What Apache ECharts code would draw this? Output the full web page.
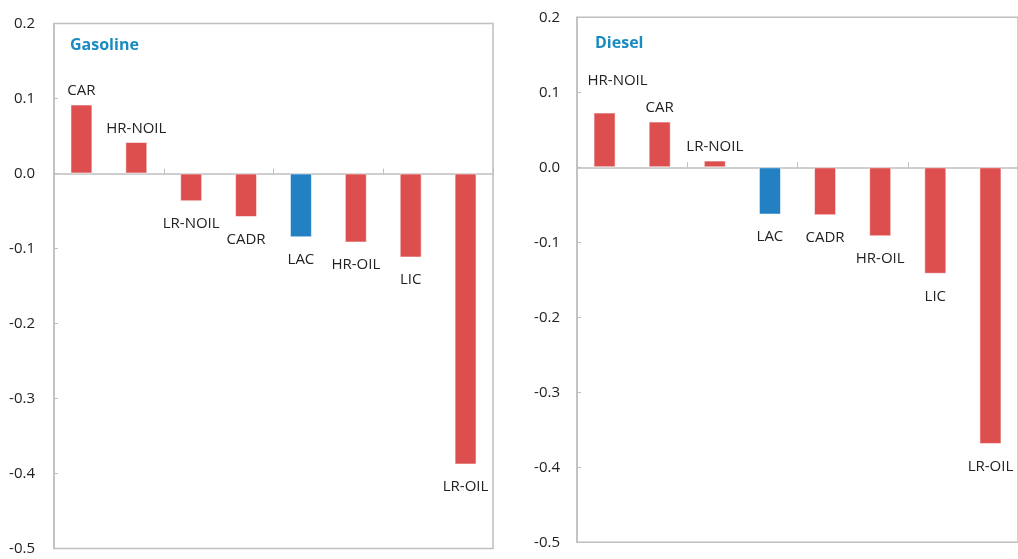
<!DOCTYPE html>
<html>
<head>
<meta charset="utf-8">
<script src="https://cdn.jsdelivr.net/npm/echarts@6/dist/echarts.min.js"></script>
<style>
  html, body { margin: 0; padding: 0; background: #fff; }
  #chart { width: 1018px; height: 559px; }
</style>
</head>
<body>
<div id="chart"></div>
<script>
// Gasoline panel
const gasolineCategories = ['CAR', 'HR-NOIL', 'LR-NOIL', 'CADR', 'LAC', 'HR-OIL', 'LIC', 'LR-OIL'];
const gasolineValues = [0.092, 0.042, -0.037, -0.058, -0.085, -0.092, -0.112, -0.388];

// Diesel panel
const dieselCategories = ['HR-NOIL', 'CAR', 'LR-NOIL', 'LAC', 'CADR', 'HR-OIL', 'LIC', 'LR-OIL'];
const dieselValues = [0.073, 0.061, 0.009, -0.063, -0.064, -0.092, -0.142, -0.369];

// Shared value axis ticks
const yMin = -0.5;
const yMax = 0.2;
const yStep = 0.1;

const highlight = 'LAC';
const RED = '#dd4f4f';
const BLUE = '#2380c3';
const AXIS_GREY = '#bfbfbf';
const FONT = '"Open Sans", "Noto Sans", sans-serif';

// firstLabelNudge moves the first label clear of the value axis and its neighbour
function barData(categories, values, firstLabelNudge) {
  return values.map((v, i) => ({
    value: v,
    itemStyle: { color: categories[i] === highlight ? BLUE : RED },
    label: v >= 0
      ? { position: 'top', distance: 6, offset: i === 0 ? firstLabelNudge : [0, 0] }
      : { position: 'bottom', distance: 15 }
  }));
}

function xAxis(gridIndex, categories) {
  return {
    type: 'category',
    gridIndex,
    data: categories,
    axisLine: { onZero: true, lineStyle: { color: AXIS_GREY, width: 1.5 } },
    axisTick: { show: true, inside: true, length: 5, lineStyle: { color: AXIS_GREY } },
    axisLabel: { show: false },
    splitLine: { show: false }
  };
}

function yAxis(gridIndex, margin) {
  return {
    type: 'value',
    gridIndex,
    min: yMin,
    max: yMax,
    interval: yStep,
    axisLine: { show: true, lineStyle: { color: AXIS_GREY, width: 1.5 } },
    axisTick: { show: true, inside: true, length: 4, lineStyle: { color: AXIS_GREY } },
    splitLine: { show: false },
    axisLabel: {
      margin,
      color: '#222',
      fontSize: 15,
      fontFamily: FONT,
      formatter: v => v.toFixed(1)
    }
  };
}

function series(index, categories, values, firstLabelNudge) {
  return {
    type: 'bar',
    xAxisIndex: index,
    yAxisIndex: index,
    data: barData(categories, values, firstLabelNudge),
    barWidth: '40%',
    itemStyle: { borderColor: 'rgba(255,255,255,0.55)', borderWidth: 1 },
    label: {
      show: true,
      formatter: '{b}',
      color: '#222',
      fontSize: 15,
      fontFamily: FONT
    },
    silent: true,
    animation: false
  };
}

const chart = echarts.init(document.getElementById('chart'), null, { renderer: 'canvas' });
chart.setOption({
  animation: false,
  backgroundColor: '#fff',
  title: [
    { text: 'Gasoline', left: 65, top: 32, textStyle: { color: '#1a8bc0', fontSize: 16, fontWeight: 'bold', fontFamily: FONT } },
    { text: 'Diesel', left: 590, top: 30, textStyle: { color: '#1a8bc0', fontSize: 16, fontWeight: 'bold', fontFamily: FONT } }
  ],
  grid: [
    { left: 54, top: 23.5, width: 439, height: 525, show: true, borderColor: AXIS_GREY, borderWidth: 1.5, backgroundColor: 'transparent' },
    { left: 577, top: 17.3, width: 442, height: 525, show: true, borderColor: AXIS_GREY, borderWidth: 1.5, backgroundColor: 'transparent' }
  ],
  xAxis: [xAxis(0, gasolineCategories), xAxis(1, dieselCategories)],
  yAxis: [yAxis(0, 19), yAxis(1, 17)],
  series: [
    series(0, gasolineCategories, gasolineValues, [0, 0]),
    series(1, dieselCategories, dieselValues, [13, -18])
  ]
});
</script>
</body>
</html>
